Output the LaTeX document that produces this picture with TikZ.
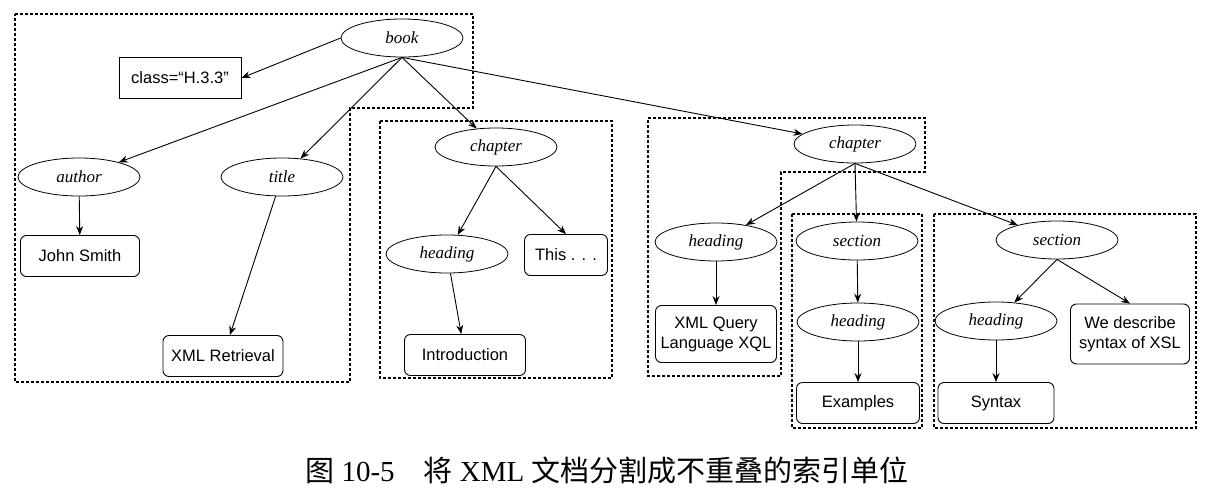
\documentclass[tikz,border=0pt]{standalone}
\usepackage{fontspec}
\setmainfont{Liberation Serif}
\setsansfont{Liberation Sans}
\newfontfamily\cjk{Noto Sans CJK SC}
\usetikzlibrary{shapes.geometric,arrows.meta}
\begin{document}
\begin{tikzpicture}[x=1pt,y=-1pt,
    elem/.style={draw,line width=0.8pt,ellipse,minimum width=122pt,minimum height=38pt,inner sep=0pt,font=\fontsize{17}{19}\selectfont\itshape},
    txtbox/.style={draw,line width=0.9pt,rounded corners=6pt,minimum height=41pt,inner sep=2pt,align=center,font=\sffamily\fontsize{16.5}{20}\selectfont},
    region/.style={densely dashed,line width=1.1pt},
    arr/.style={-{Stealth[length=9pt,width=7pt]},line width=0.9pt}]
    \useasboundingbox (0,0) rectangle (1210,498);
    \draw[region] (15,14)--(473,14)--(473,108)--(350,108)--(350,382)--(15,382)--cycle;
    \draw[region] (380,121) rectangle (612,378);
    \draw[region] (648,118)--(925,118)--(925,172)--(781,172)--(781,376)--(648,376)--cycle;
    \draw[region] (792,214) rectangle (922,428);
    \draw[region] (934,214) rectangle (1196,428);
    \node[elem] (book) at (402,38) {book};
    \node[txtbox,rounded corners=0pt,minimum width=122pt] (class) at (180,78) {class=“H.3.3”};
    \node[elem] (author) at (79,177) {author};
    \node[elem] (title) at (282,177) {title};
    \node[txtbox,minimum width=119pt] (smith) at (80,256) {John Smith};
    \node[txtbox,minimum width=120pt] (retrieval) at (223,356) {XML Retrieval};
    \node[elem] (chap1) at (496,147) {chapter};
    \node[elem] (head1) at (447,254) {heading};
    \node[txtbox,minimum width=83pt] (this) at (566,255) {This . . .};
    \node[txtbox,minimum width=121pt] (intro) at (465,355) {Introduction};
    \node[elem] (chap2) at (855,144) {chapter};
    \node[elem] (head2) at (716,242) {heading};
    \node[txtbox,minimum width=121pt,minimum height=57pt] (xql) at (716,334) {XML Query\\Language XQL};
    \node[elem] (sec1) at (857,241) {section};
    \node[elem] (head3) at (858,322) {heading};
    \node[txtbox,minimum width=123pt] (examples) at (858,403) {Examples};
    \node[elem] (sec2) at (1057,240) {section};
    \node[elem] (head4) at (996,321) {heading};
    \node[txtbox,minimum width=119pt,minimum height=60pt] (xsl) at (1130,334) {We describe\\syntax of XSL};
    \node[txtbox,minimum width=116pt] (syntax) at (996,403) {Syntax};
    \draw[arr] (book.west)--(class.east);
    \draw[arr] (book.south)--(author);
    \draw[arr] (book.south)--(title);
    \draw[arr] (book.south)--(chap1);
    \draw[arr] (book.south)--(chap2);
    \draw[arr] (author)--(smith);
    \draw[arr] (title)--(retrieval);
    \draw[arr] (chap1.south)--(head1);
    \draw[arr] (chap1.south)--(this.north);
    \draw[arr] (head1)--(intro);
    \draw[arr] (chap2.south)--(head2);
    \draw[arr] (chap2.south)--(sec1);
    \draw[arr] (chap2.south)--(sec2);
    \draw[arr] (head2)--(xql);
    \draw[arr] (sec1)--(head3);
    \draw[arr] (head3)--(examples);
    \draw[arr] (sec2.south)--(head4);
    \draw[arr] (sec2.south)--(xsl.north);
    \draw[arr] (head4)--(syntax);
    \node[font=\fontsize{29}{34}\selectfont] (caption) at (607,470) {{\cjk 图} 10-5\hspace{1em}{\cjk 将} XML {\cjk 文档分割成不重叠的索引单位}};
\end{tikzpicture}
\end{document}
